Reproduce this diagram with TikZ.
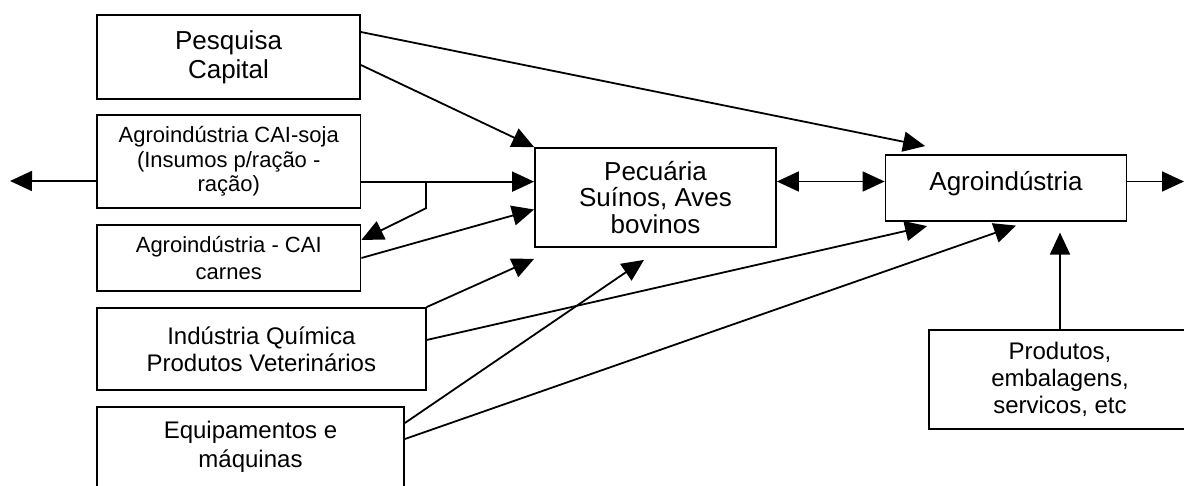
\documentclass[tikz,border=0pt]{standalone}
\usepackage{fontspec}
\setmainfont{Liberation Sans}
\usetikzlibrary{arrows.meta}
\begin{document}
\begin{tikzpicture}[x=1pt,y=-1pt,
  box/.style={draw, line width=1.8pt, inner sep=0pt, align=center},
  big/.style={font=\fontsize{26}{29}\selectfont},
  mid/.style={font=\fontsize{24}{27}\selectfont},
  small/.style={font=\fontsize{22}{24.5}\selectfont},
  link/.style={line width=1.8pt, -{Triangle[length=22pt,width=20pt]}},
  both/.style={line width=1.8pt, {Triangle[length=22pt,width=20pt]}-{Triangle[length=22pt,width=20pt]}}]
\useasboundingbox (0,0) rectangle (1184,486);
\fill[white] (0,0) rectangle (1184,486);
\clip (0,0) rectangle (1184,486);

% supply side
\node[box,big,minimum width=263pt,minimum height=84pt] (pesq) at (228.5,57) {Pesquisa\\Capital};
\node[box,small,minimum width=263.5pt,minimum height=93.3pt] (soja) at (228.75,161.65)
  {Agroindústria CAI-soja\\(Insumos p/ração -\\ração)};
\node[box,font=\fontsize{22}{26.5}\selectfont,minimum width=263.5pt,minimum height=66pt] (carnes) at (228.75,258)
  {Agroindústria - CAI\\carnes};
\node[box,mid,minimum width=328.7pt,minimum height=82pt] (quim) at (261.35,349)
  {Indústria Química\\Produtos Veterinários};
\node[box,font=\fontsize{24}{28.5}\selectfont,minimum width=307pt,minimum height=80pt] (equip) at (250.5,447)
  {Equipamentos e\\máquinas};

% central chain
\node[box,font=\fontsize{26}{26.5}\selectfont,minimum width=241pt,minimum height=99pt] (pec) at (655.5,197.5)
  {Pecuária\\Suínos, Aves\\bovinos};
\node[box,big,text depth=13pt,minimum width=241pt,minimum height=65.7pt] (agro) at (1006,187.85) {Agroindústria};
\node[box,font=\fontsize{24}{26.7}\selectfont,minimum width=262pt,minimum height=99pt] (prod) at (1060,379.5)
  {Produtos,\\embalagens,\\servicos, etc};

% loose ends
\coordinate (leftend) at (10,181);
\coordinate (rightend) at (1184,181.5);

% connectors
\draw[link] ([yshift=25pt]pesq.east) -- ([xshift=40.5pt,yshift=8pt]agro.north west);
\draw[link] ([yshift=-8pt]pesq.east) -- (pec.north west);
\draw[link] ([yshift=-19.4pt]soja.west) -- (leftend);
\draw[link] ([yshift=-20pt]soja.east) -- ([yshift=-20pt]soja.east -| pec.west);
\coordinate (fork) at ([yshift=-20pt]soja.east -| 426,0);
\draw[link] (fork) -- ++(0,26.6) -- ([yshift=18pt]carnes.east);
\draw[link] (carnes.east) -- ([yshift=-12pt]pec.west);
\draw[link] (quim.north east) -- ([yshift=-11pt]pec.south west);
\draw[link] ([yshift=9pt]quim.east) -- ([xshift=42.5pt,yshift=-4.5pt]agro.south west);
\draw[link] ([yshift=24pt]equip.east) -- ([xshift=-11.5pt,yshift=-12pt]pec.south);
\draw[link] ([yshift=8pt]equip.east) -- ([xshift=10pt,yshift=-4pt]agro.south);
\draw[link] (prod.north) -- ([yshift=-11pt]agro.south -| prod.north);
\draw[both] ([yshift=16pt]pec.east) -- ([yshift=16pt]pec.east -| agro.west);
\draw[link] ([yshift=16pt]pec.east -| agro.east) -- (rightend);
\end{tikzpicture}
\end{document}
